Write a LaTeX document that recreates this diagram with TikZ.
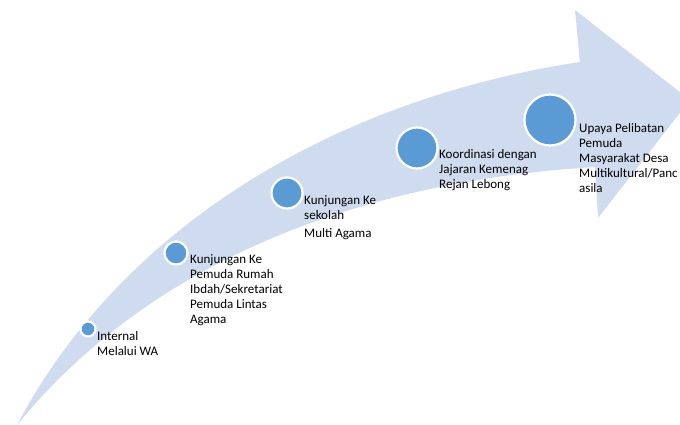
\documentclass[tikz,border=0pt]{standalone}
\usepackage{fontspec}
\setmainfont{Carlito}
\definecolor{bandcol}{RGB}{207,219,238}
\definecolor{dotcol}{RGB}{91,155,213}
\begin{document}
\begin{tikzpicture}[x=1pt,y=-1pt,
  dotnode/.style={circle,fill=dotcol,draw=white,line width=2.2pt,inner sep=0pt,minimum size=#1},
  lbl/.style={anchor=base west,inner sep=0pt,font=\fontsize{13}{15}\selectfont,text=black}]
\useasboundingbox (0,0) rectangle (680,425);
\begin{scope}
  \clip (0,0) rectangle (680,425);
  \fill[bandcol] (17,425) .. controls (120,230) and (330,100) .. (580,62)
    -- (575,10) -- (690,100) -- (598,218) -- (595,167)
    .. controls (380,180) and (160,250) .. (17,425) -- cycle;
\end{scope}
\node[dotnode=15pt] (c1) at (88,329) {};
\node[dotnode=23pt] (c2) at (176,253) {};
\node[dotnode=31pt] (c3) at (287,193) {};
\node[dotnode=41pt] (c4) at (417,148) {};
\node[dotnode=51pt] (c5) at (550,120) {};
\node[lbl] (t1) at (97,340) {\begin{tabular}[t]{@{}l@{}}Internal\\Melalui WA\end{tabular}};
\node[lbl] (t2) at (190,263) {\begin{tabular}[t]{@{}l@{}}Kunjungan Ke\\Pemuda Rumah\\Ibdah/Sekretariat\\Pemuda Lintas\\Agama\end{tabular}};
\node[lbl] (t3) at (304,204) {\begin{tabular}[t]{@{}l@{}}Kunjungan Ke\\sekolah\\[3pt]Multi Agama\end{tabular}};
\node[lbl] (t4) at (439,158) {\begin{tabular}[t]{@{}l@{}}Koordinasi dengan\\Jajaran Kemenag\\Rejan Lebong\end{tabular}};
\node[lbl] (t5) at (579,132) {\begin{tabular}[t]{@{}l@{}}Upaya Pelibatan\\Pemuda\\Masyarakat Desa\\Multikultural/Panc\\asila\end{tabular}};
\end{tikzpicture}
\end{document}
